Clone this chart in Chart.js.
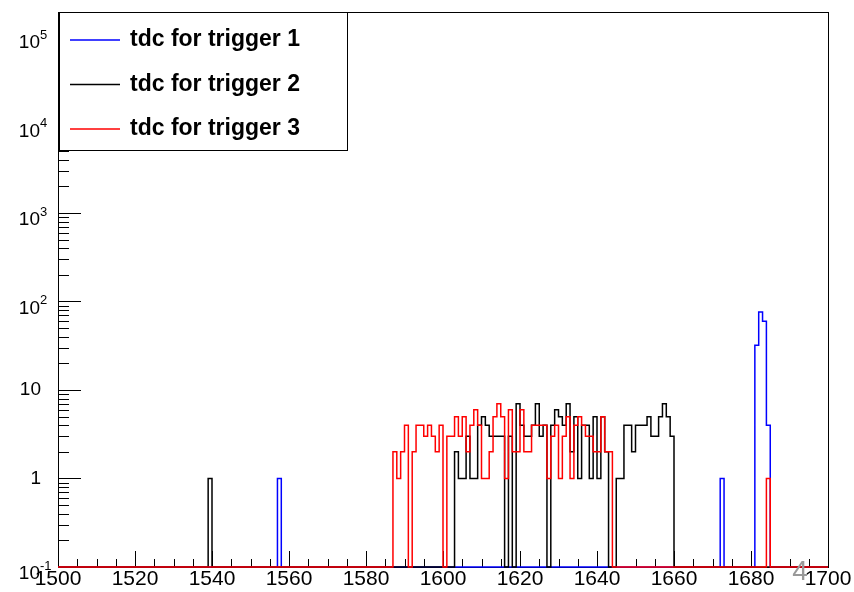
<!DOCTYPE html>
<html>
<head>
<meta charset="utf-8">
<script src="https://cdn.jsdelivr.net/npm/chart.js@4.4.0/dist/chart.umd.min.js"></script>
<style>
  html, body { margin: 0; padding: 0; background: #fff; }
  #wrap { width: 854px; height: 592px; }
</style>
</head>
<body>
<div id="wrap"><canvas id="tdc" width="854" height="592"></canvas></div>
<script>
// tdc spectra, 1 unit bins from 1500 to 1700, log y
var xMin = 1500, xMax = 1700;
var xTicks = [1500, 1520, 1540, 1560, 1580, 1600, 1620, 1640, 1660, 1680, 1700];
var yMin = 0.1, yMax = 186700;
var yDecades = [0.1, 1, 10, 100, 1000, 10000, 100000];
var yBase = ['10', '1', '10', '10', '10', '10', '10'];
var yExp = ['-1', '', '', '2', '3', '4', '5'];

var labels = ['tdc for trigger 1', 'tdc for trigger 2', 'tdc for trigger 3'];
var colors = ['#0000ff', '#000000', '#ff0000'];

// trigger 1 - only a few filled bins
var trig1Bins = [1557, 1672, 1681, 1682, 1683, 1684];
var trig1Counts = [1, 1, 32, 76, 60, 4];

// trigger 2
var trig2Bins = [1539];
var trig2Counts = [1];
var trig2Start = 1603;
var trig2Run = [2, 1, 1, 3, 1, 1, 4, 5,
  4, 3, 3, 3, 3, 0, 3, 0, 7, 4,
  3, 3, 4, 7, 3, 4, 0, 4, 6, 5,
  4, 7, 2, 5, 1, 4, 4, 1, 5, 1,
  5, 2, 0, 0, 1, 1, 4, 4, 2, 4,
  4, 4, 5, 3, 3, 5, 7, 5, 3];

// trigger 3
var trig3Bins = [1684];
var trig3Counts = [1];
var trig3Start = 1587;
var trig3Run = [2, 1, 2, 4, 0, 2, 4, 4, 3, 4, 3, 2, 4, 0,
  3, 3, 5, 3, 5, 2, 4, 6, 4, 1,
  1, 2, 5, 7, 5, 1, 6, 2, 2, 6,
  2, 2, 4, 4, 4, 4, 1, 3, 4, 1,
  3, 5, 1, 4, 5, 4, 3, 3, 2, 2,
  5, 2, 2];

// turn bins into step points (left edge of each bin)
// empty bins sit on the frame bottom like ROOT does on a log axis
function steps(bins, counts, start, run) {
  var h = {};
  bins.forEach(function(b, i) { h[b] = counts[i]; });
  if (run) run.forEach(function(c, i) { h[start + i] = c; });
  var pts = [];
  for (var x = xMin; x < xMax; x++) pts.push({x: x, y: h[x] > 0 ? h[x] : yMin});
  pts.push({x: xMax, y: yMin});
  return pts;
}

var font = "'Liberation Sans', Arial, Helvetica, sans-serif";

var rootStyle = {
  id: 'rootStyle',
  beforeDatasetsDraw: function(chart) {
    var ctx = chart.ctx, a = chart.chartArea;
    var xs = chart.scales.x, ys = chart.scales.y;
    ctx.save();
    ctx.strokeStyle = '#000';
    ctx.lineWidth = 1;
    ctx.beginPath();
    // x ticks every 5, long ones every 20
    for (var v = xMin; v <= xMax; v += 5) {
      var px = Math.round(xs.getPixelForValue(v)) + 0.5;
      var len = (v % 20 === 0) ? 16 : 8;
      ctx.moveTo(px, a.bottom);
      ctx.lineTo(px, a.bottom - len);
    }
    // y ticks, log decades + 2..9
    for (var d = 0; d < yDecades.length; d++) {
      for (var k = 1; k <= 9; k++) {
        var val = yDecades[d] * k;
        if (val > yMax) break;
        var py = Math.round(ys.getPixelForValue(val)) + 0.5;
        var l = (k === 1) ? 23 : 11;
        ctx.moveTo(a.left, py);
        ctx.lineTo(a.left + l, py);
      }
    }
    ctx.stroke();
    ctx.strokeRect(Math.round(a.left) + 0.5, Math.round(a.top) + 0.5,
      Math.round(a.right - a.left), Math.round(a.bottom - a.top));
    ctx.restore();
  },
  afterDraw: function(chart) {
    var ctx = chart.ctx;
    var ys = chart.scales.y;
    ctx.save();
    // y labels with exponents
    ctx.fillStyle = '#000';
    ctx.textBaseline = 'middle';
    yDecades.forEach(function(v, i) {
      var py = ys.getPixelForValue(v);
      if (yExp[i] === '') {
        ctx.font = '19px ' + font;
        ctx.textAlign = 'right';
        ctx.fillText(yBase[i], 41, py);
      } else {
        ctx.font = '19px ' + font;
        ctx.textAlign = 'right';
        ctx.fillText(yBase[i], 40, py + 7);
        ctx.font = '13px ' + font;
        ctx.textAlign = 'left';
        ctx.fillText(yExp[i], 40, py - 1);
      }
    });
    // legend box
    var lx = 59, ly = 12, lw = 288, lh = 138;
    ctx.fillStyle = '#fff';
    ctx.fillRect(lx, ly, lw, lh);
    ctx.strokeStyle = '#000';
    ctx.lineWidth = 1;
    ctx.strokeRect(lx + 0.5, ly + 0.5, lw, lh);
    chart.data.datasets.forEach(function(ds, i) {
      var cy = 40 + i * 44.5;
      ctx.strokeStyle = ds.borderColor;
      ctx.lineWidth = 1.5;
      ctx.beginPath();
      ctx.moveTo(70, cy);
      ctx.lineTo(120, cy);
      ctx.stroke();
      ctx.fillStyle = '#000';
      ctx.font = 'bold 23px ' + font;
      ctx.textAlign = 'left';
      ctx.textBaseline = 'middle';
      ctx.fillText(ds.label, 130, cy);
    });
    // stray page number from the original canvas
    ctx.fillStyle = '#999';
    ctx.font = '28px ' + font;
    ctx.textAlign = 'center';
    ctx.textBaseline = 'middle';
    ctx.fillText('4', 800, 572);
    ctx.restore();
  }
};

var datasets = [
  steps(trig1Bins, trig1Counts),
  steps(trig2Bins, trig2Counts, trig2Start, trig2Run),
  steps(trig3Bins, trig3Counts, trig3Start, trig3Run)
].map(function(pts, i) {
  return {
    label: labels[i],
    data: pts,
    borderColor: colors[i],
    backgroundColor: colors[i],
    borderWidth: 1.5,
    stepped: true,
    fill: false,
    pointRadius: 0,
    clip: false,
    order: 3 - i
  };
});

var myChart = new Chart(document.getElementById('tdc'), {
  type: 'line',
  data: { datasets: datasets },
  options: {
    responsive: false,
    animation: false,
    layout: { padding: { left: 0, right: 26, top: 12, bottom: 0 } },
    plugins: { legend: { display: false }, tooltip: { enabled: false } },
    scales: {
      x: {
        type: 'linear',
        min: xMin,
        max: xMax,
        afterBuildTicks: function(s) { s.ticks = xTicks.map(function(v) { return {value: v}; }); },
        afterFit: function(s) { s.height = 25; },
        grid: { display: false, drawTicks: false },
        border: { display: false },
        ticks: {
          color: '#000', padding: 0, maxRotation: 0, autoSkip: false,
          font: { family: font, size: 21 },
          callback: function(v) { return String(v); }
        }
      },
      y: {
        type: 'logarithmic',
        min: yMin,
        max: yMax,
        afterBuildTicks: function(s) { s.ticks = yDecades.map(function(v) { return {value: v}; }); },
        afterFit: function(s) { s.width = 58; },
        grid: { display: false, drawTicks: false },
        border: { display: false },
        ticks: { display: false }
      }
    }
  },
  plugins: [rootStyle]
});
</script>
</body>
</html>
